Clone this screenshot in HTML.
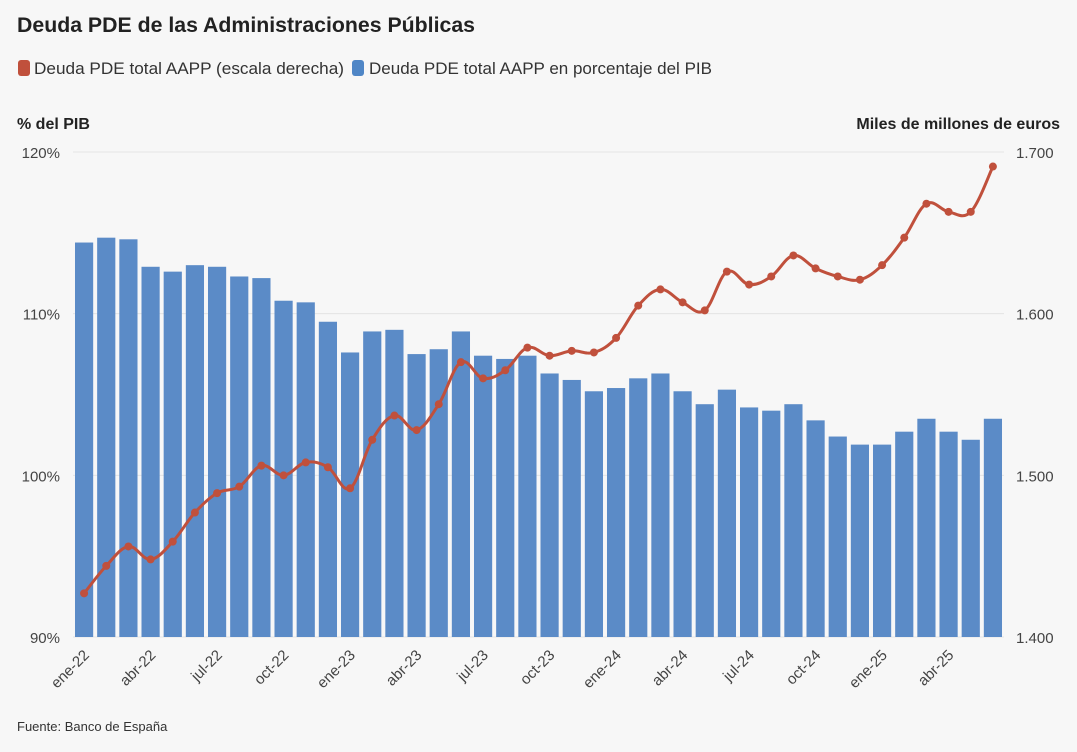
<!DOCTYPE html>
<html><head><meta charset="utf-8">
<style>
body{margin:0;background:#f7f7f7;font-family:"Liberation Sans",sans-serif;}
#wrap{position:relative;width:1077px;height:752px;overflow:hidden;}
</style></head>
<body>
<div id="wrap">
<svg id="chart" width="1077" height="752"></svg>
</div>
<script>
const categories=["ene-22","feb-22","mar-22","abr-22","may-22","jun-22","jul-22","ago-22","sep-22","oct-22","nov-22","dic-22","ene-23","feb-23","mar-23","abr-23","may-23","jun-23","jul-23","ago-23","sep-23","oct-23","nov-23","dic-23","ene-24","feb-24","mar-24","abr-24","may-24","jun-24","jul-24","ago-24","sep-24","oct-24","nov-24","dic-24","ene-25","feb-25","mar-25","abr-25","may-25","jun-25"];
const pctValues=[114.4,114.7,114.6,112.9,112.6,113.0,112.9,112.3,112.2,110.8,110.7,109.5,107.6,108.9,109.0,107.5,107.8,108.9,107.4,107.2,107.4,106.3,105.9,105.2,105.4,106.0,106.3,105.2,104.4,105.3,104.2,104.0,104.4,103.4,102.4,101.9,101.9,102.7,103.5,102.7,102.2,103.5];
const debtValues=[1427,1444,1456,1448,1459,1477,1489,1493,1506,1500,1508,1505,1492,1522,1537,1528,1544,1570,1560,1565,1579,1574,1577,1576,1585,1605,1615,1607,1602,1626,1618,1623,1636,1628,1623,1621,1630,1647,1668,1663,1663,1691];
const leftTicks=[90,100,110,120];
const leftTickLabels=["90%","100%","110%","120%"];
const rightTicks=[1400,1500,1600,1700];
const rightTickLabels=["1.400","1.500","1.600","1.700"];

const NS="http://www.w3.org/2000/svg";
const svg=document.getElementById('chart');
const X0=73,X1=1004,Y0=637,Y1=152;
const step=(X1-X0)/categories.length;
const xc=i=>X0+step*(i+0.5);
const yL=v=>Y0-(v-90)/30*(Y0-Y1);
const yR=v=>Y0-(v-1400)/300*(Y0-Y1);
function mk(tag,attrs,parent){const e=document.createElementNS(NS,tag);for(const k in attrs)e.setAttribute(k,attrs[k]);(parent||svg).appendChild(e);return e;}
function txt(s,attrs,parent){const e=mk('text',attrs,parent);e.textContent=s;return e;}

let t;
t=txt("Deuda PDE de las Administraciones Públicas",{x:17,y:32,'font-size':21,'font-weight':'bold',fill:'#222',textLength:458,lengthAdjust:'spacingAndGlyphs'});

let lg=mk('g',{});

let g1=mk('g',{},lg);
mk('rect',{x:18,y:60,width:12,height:16,rx:3,fill:'#c0503c'},g1);
txt("Deuda PDE total AAPP (escala derecha)",{x:34,y:74,'font-size':17,fill:'#333',textLength:310,lengthAdjust:'spacingAndGlyphs'},g1);
let g2=mk('g',{},lg);
mk('rect',{x:352,y:60,width:12,height:16,rx:3,fill:'#4f86c6'},g2);
txt("Deuda PDE total AAPP en porcentaje del PIB",{x:369,y:74,'font-size':17,fill:'#333',textLength:343,lengthAdjust:'spacingAndGlyphs'},g2);
t=txt("% del PIB",{x:17,y:129,'font-size':16,'font-weight':'bold',fill:'#222'});

t=txt("Miles de millones de euros",{x:1060,y:129,'font-size':16,'font-weight':'bold',fill:'#222','text-anchor':'end'});


leftTicks.forEach((v,i)=>{
  const y=yL(v);
  const l=mk('line',{x1:X0,x2:X1,y1:y,y2:y,stroke:'#e4e4e4','stroke-width':1});
  
  const a=txt(leftTickLabels[i],{x:60,y:y+6,'font-size':15,fill:'#444','text-anchor':'end'});
  
});
rightTicks.forEach((v,i)=>{
  const a=txt(rightTickLabels[i],{x:1016,y:yR(v)+6,'font-size':15,fill:'#444'});
  
});
const bw=step*0.82;
pctValues.forEach((v,i)=>{
  const r=mk('rect',{x:xc(i)-bw/2,y:yL(v),width:bw,height:Y0-yL(v),fill:'#5b8bc7'});
  
});
categories.forEach((c,i)=>{
  if(i%3!==0)return;
  const x=xc(i),y=650;
  const a=txt(c,{x:x+6,y:y+6,'font-size':15,fill:'#444','text-anchor':'end',transform:`rotate(-45 ${x+6} ${y+6})`});
  
});
const pts=debtValues.map((v,i)=>[xc(i),yR(v)]);
let d=`M${pts[0][0]},${pts[0][1]}`;
for(let i=0;i<pts.length-1;i++){
  const p0=pts[Math.max(0,i-1)],p1=pts[i],p2=pts[i+1],p3=pts[Math.min(pts.length-1,i+2)];
  const k=0.18;
  d+=` C${p1[0]+(p2[0]-p0[0])*k},${p1[1]+(p2[1]-p0[1])*k} ${p2[0]-(p3[0]-p1[0])*k},${p2[1]-(p3[1]-p1[1])*k} ${p2[0]},${p2[1]}`;
}
const ln=mk('path',{d:d,fill:'none',stroke:'#c0503c','stroke-width':3});

pts.forEach((p,i)=>{
  const c=mk('circle',{cx:p[0],cy:p[1],r:4,fill:'#c0503c'});
  
});
t=txt("Fuente: Banco de España",{x:17,y:731,'font-size':13,fill:'#333'});

</script>
</body></html>
